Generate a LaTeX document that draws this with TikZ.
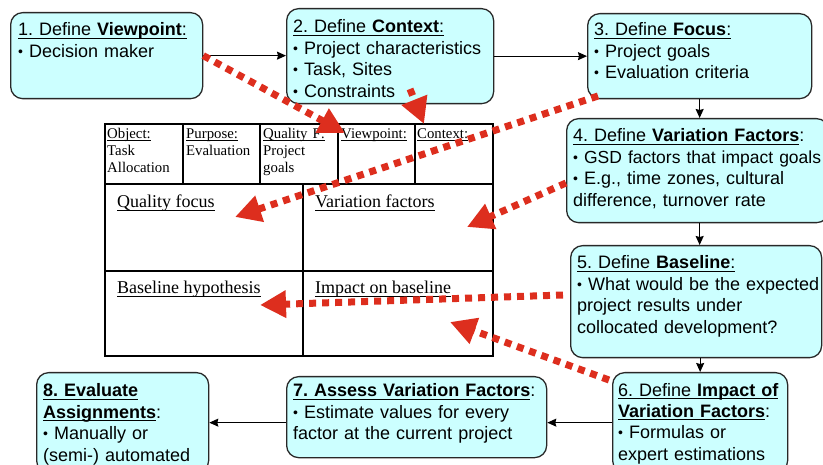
\documentclass[tikz,border=0pt]{standalone}
\usepackage{fontspec}
\setmainfont{Liberation Sans}
\newfontfamily\tablefont{Liberation Serif}
\usetikzlibrary{arrows.meta}
\definecolor{boxfill}{RGB}{204,255,255}
\definecolor{boxline}{RGB}{40,40,40}
\definecolor{dotred}{RGB}{221,46,30}
\newsavebox\undlbox
\newcommand\undl[1]{\leavevmode\sbox\undlbox{#1}\rlap{\rule[-0.16em]{\wd\undlbox}{0.065em}}\usebox\undlbox}
\newcommand\bul{\raisebox{1pt}{\fontsize{14}{14}\selectfont\textbullet}\ }

\begin{document}
\begin{tikzpicture}
[x=1pt,y=-1pt,
  boxDecorate/.style={draw=boxline,fill=boxfill,line width=1.3pt,rounded corners=12pt,anchor=north west,inner sep=0pt},%
  textDecorate/.style={anchor=base west,inner sep=0pt,text width=300pt,align=left,font=\fontsize{18}{21.5}\selectfont\frenchspacing},%
  headDecorate/.style={anchor=base west,inner sep=0pt,text width=76pt,align=left,font=\tablefont\fontsize{14.8}{17}\selectfont},%
  cellDecorate/.style={anchor=base west,inner sep=0pt,font=\tablefont\fontsize{18}{21}\selectfont},%
  gridDecorate/.style={draw=black,line width=1.4pt},%
  flowDecorate/.style={draw=black,line width=1.2pt,-{Stealth[length=9pt,width=8pt,inset=1pt]}},%
  linkDecorate/.style={draw=dotred,line width=7pt,dash pattern=on 7pt off 6pt,-{Triangle[length=26pt,width=26pt]}}]
\useasboundingbox (0,0) rectangle (823,465);
%% steps
\foreach \name/\x/\y/\w/\h in {
  box1/10/12/192/86, box2/286/8/207/95, box3/587/13/224/85, box4/566/118/262/104,
  box5/570/245/251/112, box6/612/372/175/100, box7/286/376/260/81, box8/36/372/172/100}
{
  \node[boxDecorate,minimum width=\w,minimum height=\h] (\name) at (\x,\y) {};
}
\node[textDecorate] (text1) at ([shift={(8,24)}]box1.north west)
  {\undl{1. Define \textbf{Viewpoint}:}\\ \bul Decision maker};
\node[textDecorate] (text2) at ([shift={(7,25)}]box2.north west)
  {\undl{2. Define \textbf{Context}:}\\ \bul Project characteristics\\ \bul Task, Sites\\ \bul Constraints};
\node[textDecorate] (text3) at ([shift={(7,23)}]box3.north west)
  {\undl{3. Define \textbf{Focus}:}\\ \bul Project goals\\ \bul Evaluation criteria};
\node[textDecorate] (text4) at ([shift={(7,24)}]box4.north west)
  {\undl{4. Define \textbf{Variation Factors}}:\\ {\fontsize{17.5}{21.5}\selectfont\bul GSD factors that impact goals}\\ \bul E.g., time zones, cultural\\ difference, turnover rate};
\node[textDecorate] (text5) at ([shift={(7,24)}]box5.north west)
  {\undl{5. Define \textbf{Baseline}:}\\ \bul What would be the expected\\ project results under\\ collocated development?};
\node[textDecorate] (text6) at ([shift={(6,24)}]box6.north west)
  {\undl{6. Define \textbf{Impact of}}\\ \undl{\textbf{Variation Factors}}:\\ \bul Formulas or\\ expert estimations};
\node[textDecorate] (text7) at ([shift={(7,21)}]box7.north west)
  {\undl{\textbf{7. Assess Variation Factors}}:\\ \bul Estimate values for every\\ factor at the current project};
\node[textDecorate] (text8) at ([shift={(7,25)}]box8.north west)
  {\undl{\textbf{8. Evaluate}}\\ \undl{\textbf{Assignments}}:\\ \bul Manually or\\ (semi-) automated};
%% flow between steps
\draw[flowDecorate] (box1) -- (box1 -| box2.west);
\draw[flowDecorate] (box2) -- (box2 -| box3.west);
\draw[flowDecorate] (box3) -- (box3 |- box4.north);
\draw[flowDecorate] (box4.south -| box3) -- (box5.north -| box3);
\draw[flowDecorate] (box6 |- box5.south) -- (box6);
\draw[flowDecorate] (box6) -- (box6 -| box7.east);
\draw[flowDecorate] (box7.west |- box8) -- (box8);
%% GQM+ table
\draw[gridDecorate] (105,124) rectangle (493,356);
\foreach \x in {183,260,338,415}
  \draw[gridDecorate] (\x,124) -- (\x,184);
\draw[gridDecorate] (105,184) -- (493,184);
\draw[gridDecorate] (105,271) -- (493,271);
\draw[gridDecorate] (303,184) -- (303,356);
\node[headDecorate] (object) at (107,139) {\undl{Object:}\\ Task\\ Allocation};
\node[headDecorate] (purpose) at (186,139) {\undl{Purpose:}\\ Evaluation};
\node[headDecorate] (quality) at (263,139) {\undl{Quality F:}\\ Project\\ goals};
\node[headDecorate] (viewpoint) at (341,139) {\undl{Viewpoint:}};
\node[headDecorate] (context) at (417,139) {\undl{Context:}};
\node[cellDecorate] (qfocus) at (117,208) {\undl{Quality focus}};
\node[cellDecorate] (vfactors) at (315,208) {\undl{Variation factors}};
\node[cellDecorate] (bhypo) at (117,294) {\undl{Baseline hypothesis}};
\node[cellDecorate] (impact) at (315,294) {\undl{Impact on baseline}};
%% dotted links into the table
\coordinate (vpTip) at (345,133);
\coordinate (cxStart) at (410,89);
\coordinate (cxTip) at (424,124);
\coordinate (qfStart) at (598,96);
\coordinate (qfTip) at (235,217);
\coordinate (vfStart) at (566,183);
\coordinate (vfTip) at (467,227);
\coordinate (blStart) at (563,295);
\coordinate (blTip) at (260,305);
\coordinate (imStart) at (609,380);
\coordinate (imTip) at (450,322);
\foreach \startnode/\endnode in {box1.east/vpTip, cxStart/cxTip, qfStart/qfTip,
  vfStart/vfTip, blStart/blTip, imStart/imTip}
{
  \draw[linkDecorate] (\startnode) -- (\endnode);
}
\end{tikzpicture}
\end{document}
